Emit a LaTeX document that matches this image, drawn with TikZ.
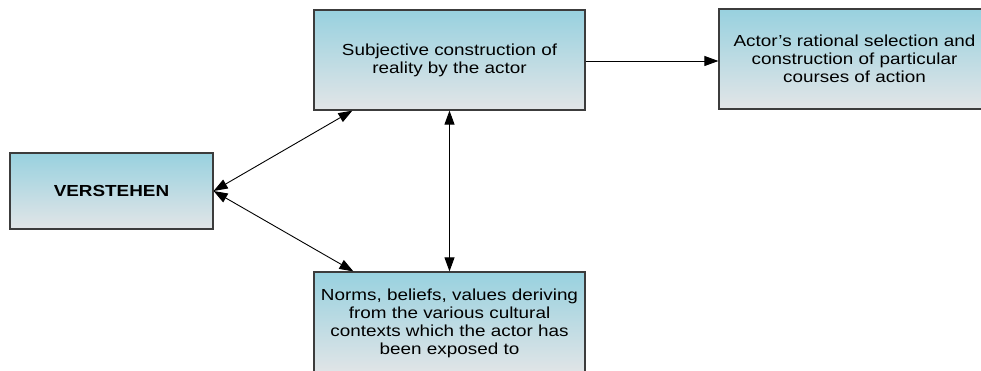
\documentclass[tikz,border=0pt]{standalone}
\usepackage{fontspec}
\setmainfont[FakeStretch=1.18]{Liberation Sans}
\usetikzlibrary{arrows.meta}
\definecolor{boxtop}{RGB}{152,209,223}
\definecolor{boxbot}{RGB}{226,229,231}
\definecolor{boxline}{RGB}{60,60,60}
\tikzset{
  fbox/.style={draw=boxline, line width=1.2pt, top color=boxtop, bottom color=boxbot,
    align=center, inner sep=0pt, font=\fontsize{16pt}{17.8pt}\selectfont},
  link/.style={line width=0.9pt, black, {Triangle[length=14pt,width=10pt]}-{Triangle[length=14pt,width=10pt]}},
  onelink/.style={line width=0.9pt, black, -{Triangle[length=14pt,width=10pt]}}
}
\begin{document}
\begin{tikzpicture}[x=1pt,y=1pt]
\useasboundingbox (0,0) rectangle (981,370);
\node[fbox, minimum width=203pt, minimum height=76pt, font=\fontsize{16pt}{17.8pt}\selectfont\bfseries] (verst) at (111.5,179) {VERSTEHEN};
\node[fbox, minimum width=271pt, minimum height=100pt] (subj) at (449.5,310) {Subjective construction of\\reality by the actor};
\node[fbox, minimum width=271pt, minimum height=100pt] (actor) at (854.5,311) {Actor’s rational selection and\\construction of particular\\courses of action};
\node[fbox, minimum width=271pt, minimum height=103pt] (norms) at (449.5,46.5) {Norms, beliefs, values deriving\\from the various cultural\\contexts which the actor has\\been exposed to};
\draw[onelink] (subj.east |- 0,309) -- (actor.west |- 0,309);
\draw[link] (verst.east) -- ([xshift=39pt]subj.south west);
\draw[link] (verst.east) -- ([xshift=40pt]norms.north west);
\draw[link] (subj.south) -- (norms.north);
\end{tikzpicture}
\end{document}
